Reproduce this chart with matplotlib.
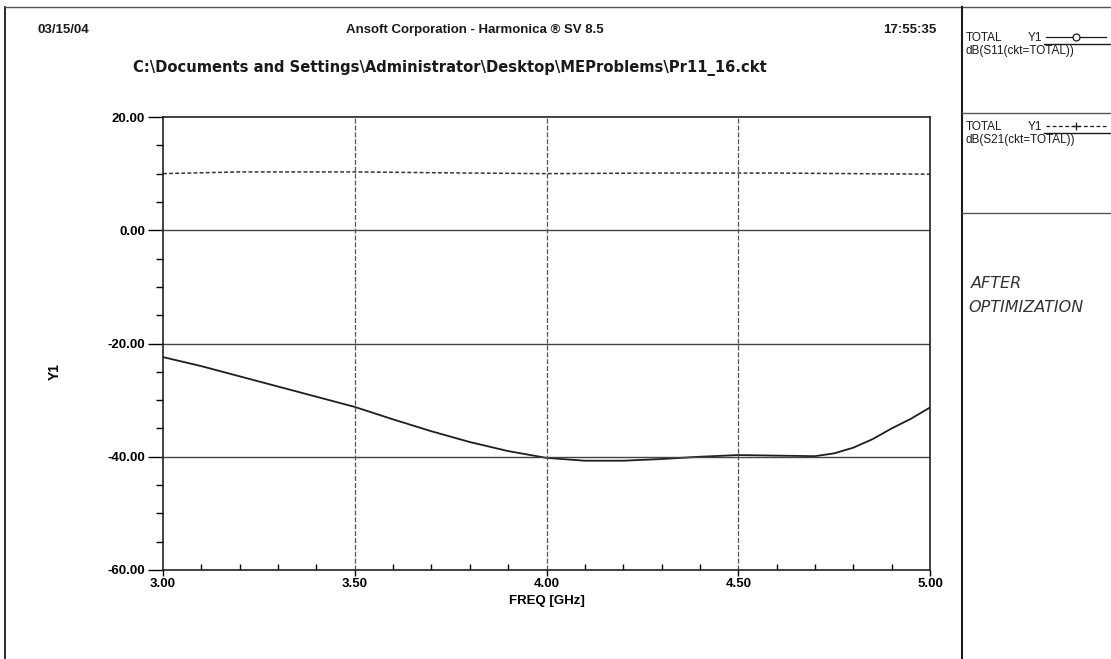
import numpy as np
import matplotlib.pyplot as plt
from matplotlib.ticker import MultipleLocator, FormatStrFormatter

plt.rcParams['font.family'] = ['Liberation Sans Narrow', 'Liberation Sans', 'DejaVu Sans']

# datos
freq_s11 = [3.00, 3.10, 3.20, 3.30, 3.40, 3.50, 3.60, 3.70, 3.80, 3.90, 4.00,
            4.10, 4.20, 4.30, 4.40, 4.50, 4.60, 4.70, 4.75, 4.80, 4.85, 4.90, 4.95, 5.00]
s11_db = [-22.4, -24.0, -25.8, -27.6, -29.4, -31.2, -33.4, -35.5, -37.4, -39.0, -40.2,
          -40.7, -40.7, -40.4, -40.0, -39.7, -39.8, -39.9, -39.4, -38.4, -36.9, -35.0, -33.3, -31.3]
freq_s21 = [3.00, 3.20, 3.50, 3.80, 4.00, 4.30, 4.60, 5.00]
s21_db = [10.0, 10.3, 10.3, 10.1, 10.0, 10.1, 10.1, 9.9]

x_ticks = [3.0, 3.5, 4.0, 4.5, 5.0]
y_ticks = [-60, -40, -20, 0, 20]

W, H = 1111, 659
fig = plt.figure(figsize=(W / 100, H / 100), dpi=100)

# capa de fondo en pixeles para marcos y textos de la hoja
bg = fig.add_axes([0, 0, 1, 1])
bg.set_xlim(0, W)
bg.set_ylim(H, 0)
bg.axis('off')
tinta = '#1a1a1a'
bg.plot([5, 5], [7, H], color=tinta, lw=1.3)
bg.plot([5, W], [7, 7], color='#555555', lw=1.0)
bg.plot([962, 962], [7, H], color=tinta, lw=1.5)
bg.plot([962, W], [113, 113], color='#555555', lw=1.0)
bg.plot([962, W], [213, 213], color='#555555', lw=1.0)

bg.text(37, 30, "03/15/04", fontsize=9.5, fontweight='bold', va='center', ha='left', color=tinta)
bg.text(475, 30, "Ansoft Corporation - Harmonica \u00ae SV 8.5", fontsize=9.5, fontweight='bold',
        va='center', ha='center', color=tinta)
bg.text(936, 30, "17:55:35", fontsize=9.5, fontweight='bold', va='center', ha='right', color=tinta)
bg.text(450, 68, "C:\\Documents and Settings\\Administrator\\Desktop\\MEProblems\\Pr11_16.ckt",
        fontsize=10.6, fontweight='bold', va='center', ha='center', color=tinta,
        family=['DejaVu Sans'])

# leyenda del panel derecho
bg.text(966, 38, "TOTAL", fontsize=8.5, va='center', ha='left', color=tinta)
bg.text(1028, 38, "Y1", fontsize=8.5, va='center', ha='left', color=tinta)
bg.plot([1046, 1106], [37, 37], color=tinta, lw=0.9)
bg.plot([1076], [37], marker='o', ms=5, mfc='white', mec=tinta, mew=0.9)
bg.plot([1044, W], [44, 44], color=tinta, lw=1.0)
bg.text(966, 51, "dB(S11(ckt=TOTAL))", fontsize=8.5, va='center', ha='left', color=tinta)
bg.text(966, 127, "TOTAL", fontsize=8.5, va='center', ha='left', color=tinta)
bg.text(1028, 127, "Y1", fontsize=8.5, va='center', ha='left', color=tinta)
bg.plot([1046, 1106], [126, 126], color=tinta, lw=0.9, ls=(0, (3, 2)))
bg.plot([1076], [126], marker='+', ms=6, color=tinta, mew=0.9)
bg.plot([1044, W], [133, 133], color=tinta, lw=1.0)
bg.text(966, 140, "dB(S21(ckt=TOTAL))", fontsize=8.5, va='center', ha='left', color=tinta)
bg.text(971, 283, "AFTER", fontsize=11.5, va='center', ha='left', color='#333333',
        fontstyle='italic', family='DejaVu Sans', fontweight='light')
bg.text(968, 307, "OPTIMIZATION", fontsize=11.5, va='center', ha='left', color='#333333',
        fontstyle='italic', family='DejaVu Sans', fontweight='light')

# grafica principal
ax = fig.add_axes([163 / W, 1 - 570 / H, (930 - 163) / W, (570 - 117) / H])
ax.plot(freq_s21, s21_db, color='#333333', lw=1.1, ls=(0, (2.5, 1.5)))
ax.plot(freq_s11, s11_db, color='#1e1e1e', lw=1.3)

ax.set_xlim(3.0, 5.0)
ax.set_ylim(-60, 20)
ax.set_xticks(x_ticks)
ax.set_yticks(y_ticks)
ax.xaxis.set_major_formatter(FormatStrFormatter('%.2f'))
ax.yaxis.set_major_formatter(FormatStrFormatter('%.2f'))
ax.xaxis.set_minor_locator(MultipleLocator(0.1))
ax.yaxis.set_minor_locator(MultipleLocator(5))
ax.tick_params(axis='y', which='major', direction='out', length=11, width=1, pad=2, labelsize=9.5)
ax.tick_params(axis='y', which='minor', direction='out', length=5, width=1)
ax.tick_params(axis='x', which='major', direction='out', length=4, width=1, pad=2, labelsize=9.5)
ax.tick_params(axis='x', which='minor', direction='in', length=4, width=1)
for lab in ax.get_xticklabels() + ax.get_yticklabels():
    lab.set_fontweight('bold')

for y in [0, -20, -40]:
    ax.axhline(y, color='#444444', lw=1.0)
for x in [3.5, 4.0, 4.5]:
    ax.axvline(x, color='#555555', lw=0.9, ls=(0, (4, 1.5)))

for s in ['left', 'bottom', 'right', 'top']:
    ax.spines[s].set_color('#222222')
    ax.spines[s].set_linewidth(1.2)

ax.set_xlabel("FREQ [GHz]", fontsize=9.5, fontweight='bold', labelpad=4)
ax.xaxis.set_label_coords((547 - 163) / (930 - 163), -0.055)
ax.set_ylabel("Y1", fontsize=10, fontweight='bold')
ax.yaxis.set_label_coords(-(163 - 62) / (930 - 163), (570 - 372) / (570 - 117))

fig.savefig('out.png', dpi=100)
